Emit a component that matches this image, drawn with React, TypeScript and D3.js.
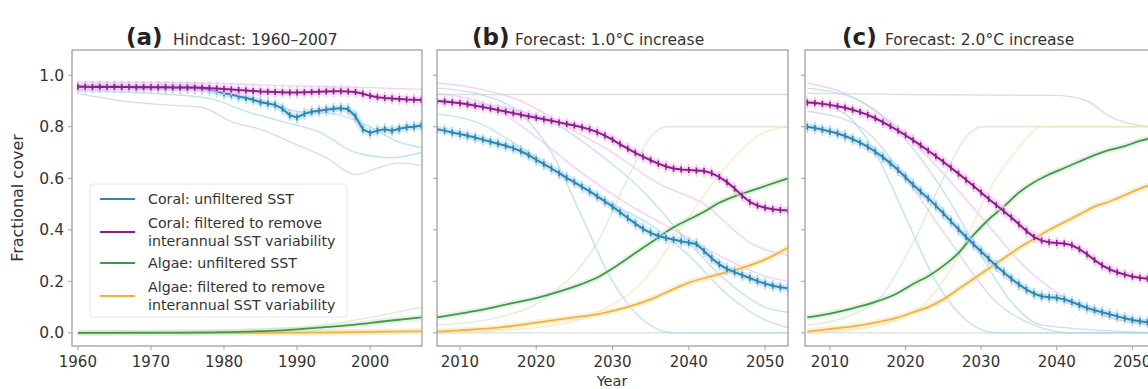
import React from "react";
import * as d3 from "d3";

// ---- data -------------------------------------------------------------
const hindYears = d3.range(1960, 2008);
const foreYears = d3.range(2007, 2054);

// Panel (a) hindcast, annual coral cover
const coralUnfilteredA = [
  0.955, 0.955, 0.954, 0.955, 0.954, 0.955, 0.954, 0.954, 0.953, 0.954,
  0.953, 0.953, 0.953, 0.952, 0.952, 0.951, 0.950, 0.948, 0.944, 0.938,
  0.930, 0.925, 0.918, 0.912, 0.905, 0.895, 0.890, 0.885, 0.870, 0.845,
  0.836, 0.850, 0.858, 0.862, 0.866, 0.870, 0.872, 0.868, 0.840, 0.790,
  0.776, 0.785, 0.790, 0.785, 0.792, 0.798, 0.800, 0.805,
];
const coralFilteredA = [
  0.955, 0.955, 0.954, 0.955, 0.954, 0.955, 0.954, 0.954, 0.953, 0.954,
  0.953, 0.953, 0.953, 0.952, 0.952, 0.952, 0.952, 0.951, 0.950, 0.949,
  0.947, 0.945, 0.943, 0.941, 0.939, 0.937, 0.936, 0.935, 0.934, 0.933,
  0.933, 0.934, 0.935, 0.936, 0.937, 0.938, 0.938, 0.937, 0.935, 0.928,
  0.920, 0.915, 0.912, 0.910, 0.908, 0.906, 0.905, 0.904,
];
const algaeUnfilteredA: [number, number][] = [
  [1960, 0.0], [1975, 0.001], [1982, 0.004], [1988, 0.01], [1993, 0.02],
  [1998, 0.032], [2002, 0.045], [2007, 0.06],
];
const algaeFilteredA: [number, number][] = [
  [1960, 0.0], [1985, 0.0], [1995, 0.002], [2007, 0.006],
];

// Panel (b) forecast, +1.0 °C
const coralUnfilteredB = [
  0.790, 0.785, 0.778, 0.772, 0.765, 0.758, 0.750, 0.742, 0.734, 0.726,
  0.717, 0.705, 0.690, 0.672, 0.655, 0.638, 0.620, 0.602, 0.585, 0.567,
  0.550, 0.530, 0.510, 0.490, 0.468, 0.446, 0.424, 0.404, 0.388, 0.376,
  0.368, 0.362, 0.356, 0.350, 0.345, 0.318, 0.290, 0.266, 0.248, 0.236,
  0.224, 0.213, 0.201, 0.191, 0.183, 0.177, 0.173,
];
const coralFilteredB = [
  0.900, 0.898, 0.895, 0.891, 0.887, 0.882, 0.877, 0.871, 0.865, 0.859,
  0.853, 0.847, 0.841, 0.835, 0.829, 0.823, 0.817, 0.811, 0.805, 0.798,
  0.790, 0.779, 0.766, 0.750, 0.732, 0.715, 0.699, 0.684, 0.670, 0.657,
  0.646, 0.638, 0.634, 0.632, 0.630, 0.628, 0.620, 0.605, 0.585, 0.560,
  0.532, 0.508, 0.494, 0.486, 0.480, 0.477, 0.475,
];
const algaeUnfilteredB: [number, number][] = [
  [2007, 0.06], [2010, 0.075], [2013, 0.09], [2016, 0.11], [2020, 0.135],
  [2023, 0.16], [2026, 0.19], [2028, 0.215], [2030, 0.25], [2032, 0.29],
  [2034, 0.33], [2036, 0.37], [2038, 0.41], [2040, 0.44], [2042, 0.47],
  [2044, 0.505], [2046, 0.53], [2048, 0.55], [2050, 0.57], [2052, 0.59], [2053, 0.6],
];
const algaeFilteredB: [number, number][] = [
  [2007, 0.005], [2010, 0.01], [2015, 0.02], [2020, 0.04], [2025, 0.06],
  [2028, 0.072], [2030, 0.085], [2033, 0.11], [2035, 0.13], [2038, 0.17],
  [2040, 0.195], [2043, 0.22], [2045, 0.236], [2048, 0.262], [2050, 0.285], [2053, 0.33],
];

// Panel (c) forecast, +2.0 °C
const coralUnfilteredC = [
  0.800, 0.795, 0.789, 0.782, 0.774, 0.764, 0.752, 0.738, 0.722, 0.703,
  0.682, 0.658, 0.632, 0.604, 0.575, 0.548, 0.522, 0.494, 0.464, 0.433,
  0.402, 0.372, 0.344, 0.316, 0.288, 0.260, 0.234, 0.210, 0.188, 0.168,
  0.152, 0.142, 0.138, 0.136, 0.130, 0.120, 0.108, 0.097, 0.088, 0.080,
  0.072, 0.064, 0.057, 0.050, 0.045, 0.041, 0.038,
];
const coralFilteredC = [
  0.894, 0.892, 0.889, 0.885, 0.880, 0.874, 0.866, 0.857, 0.846, 0.833,
  0.818, 0.802, 0.785, 0.767, 0.748, 0.728, 0.707, 0.686, 0.664, 0.641,
  0.618, 0.594, 0.570, 0.545, 0.520, 0.496, 0.472, 0.448, 0.422, 0.395,
  0.372, 0.358, 0.352, 0.349, 0.347, 0.340, 0.325, 0.305, 0.283, 0.262,
  0.247, 0.235, 0.226, 0.219, 0.214, 0.210, 0.207,
];
const algaeUnfilteredC: [number, number][] = [
  [2007, 0.06], [2010, 0.075], [2013, 0.095], [2016, 0.12], [2019, 0.155],
  [2021, 0.19], [2023, 0.22], [2025, 0.26], [2027, 0.31], [2029, 0.38],
  [2031, 0.44], [2033, 0.49], [2035, 0.545], [2037, 0.585], [2039, 0.615],
  [2041, 0.64], [2043, 0.665], [2045, 0.69], [2047, 0.71], [2049, 0.725],
  [2051, 0.745], [2053, 0.76],
];
const algaeFilteredC: [number, number][] = [
  [2007, 0.005], [2010, 0.015], [2013, 0.025], [2016, 0.04], [2019, 0.06],
  [2021, 0.08], [2023, 0.1], [2025, 0.13], [2027, 0.17], [2029, 0.21],
  [2031, 0.25], [2033, 0.29], [2035, 0.33], [2037, 0.365], [2039, 0.4],
  [2041, 0.43], [2043, 0.46], [2045, 0.49], [2047, 0.51], [2049, 0.535],
  [2051, 0.56], [2053, 0.58],
];

// Individual reef trajectories drawn faintly behind the means
type Site = { kind: "coral" | "coralF" | "algae" | "algaeF" | "grey"; pts: [number, number][] };
const sitesA: Site[] = [
  { kind: "coralF", pts: [[1960, 0.975], [1980, 0.968], [1990, 0.958], [2000, 0.952], [2007, 0.945]] },
  { kind: "grey", pts: [[1960, 0.93], [1966, 0.9], [1972, 0.885], [1977, 0.875], [1981, 0.82], [1985, 0.79], [1990, 0.73], [1994, 0.68], [1998, 0.615], [2001, 0.64], [2004, 0.66], [2007, 0.65]] },
  { kind: "coral", pts: [[1960, 0.96], [1975, 0.95], [1980, 0.93], [1985, 0.9], [1990, 0.86], [1995, 0.85], [2000, 0.8], [2004, 0.74], [2007, 0.72]] },
  { kind: "coral", pts: [[1960, 0.94], [1970, 0.93], [1978, 0.91], [1983, 0.86], [1988, 0.82], [1993, 0.78], [1998, 0.7], [2003, 0.68], [2007, 0.7]] },
  { kind: "algaeF", pts: [[1960, 0.004], [1990, 0.006], [2007, 0.012]] },
  { kind: "algae", pts: [[1960, 0.0], [1990, 0.02], [2000, 0.06], [2007, 0.1]] },
];
const sitesB: Site[] = [
  { kind: "grey", pts: [[2007, 0.925], [2053, 0.925]] },
  { kind: "grey", pts: [[2007, 0.0], [2053, 0.0]] },
  { kind: "coralF", pts: [[2007, 0.97], [2012, 0.95], [2018, 0.9], [2024, 0.8], [2030, 0.7], [2036, 0.58], [2042, 0.5], [2048, 0.35], [2053, 0.3]] },
  { kind: "coralF", pts: [[2007, 0.93], [2014, 0.88], [2020, 0.76], [2026, 0.62], [2032, 0.5], [2038, 0.4], [2044, 0.3], [2050, 0.22], [2053, 0.2]] },
  { kind: "coral", pts: [[2007, 0.95], [2012, 0.93], [2018, 0.85], [2022, 0.7], [2026, 0.45], [2030, 0.2], [2034, 0.05], [2038, 0.0], [2053, 0.0]] },
  { kind: "coral", pts: [[2007, 0.85], [2012, 0.82], [2018, 0.72], [2024, 0.6], [2030, 0.5], [2036, 0.4], [2040, 0.3], [2045, 0.15], [2050, 0.05], [2053, 0.02]] },
  { kind: "coral", pts: [[2007, 0.9], [2015, 0.88], [2022, 0.82], [2028, 0.7], [2034, 0.55], [2040, 0.35], [2045, 0.2], [2050, 0.1], [2053, 0.08]] },
  { kind: "algae", pts: [[2007, 0.03], [2015, 0.06], [2022, 0.15], [2028, 0.35], [2032, 0.6], [2035, 0.76], [2037, 0.8], [2053, 0.8]] },
  { kind: "algaeF", pts: [[2007, 0.0], [2020, 0.02], [2028, 0.08], [2034, 0.2], [2040, 0.45], [2045, 0.65], [2050, 0.78], [2053, 0.8]] },
];
const sitesC: Site[] = [
  { kind: "grey", pts: [[2007, 0.93], [2020, 0.925], [2040, 0.922], [2044, 0.9], [2047, 0.84], [2050, 0.81], [2053, 0.8]] },
  { kind: "grey", pts: [[2007, 0.0], [2053, 0.0]] },
  { kind: "grey", pts: [[2007, 0.86], [2014, 0.8], [2020, 0.6], [2026, 0.35], [2032, 0.12], [2037, 0.03], [2042, 0.0], [2053, 0.0]] },
  { kind: "coralF", pts: [[2007, 0.97], [2012, 0.93], [2018, 0.82], [2024, 0.65], [2030, 0.45], [2036, 0.25], [2042, 0.12], [2048, 0.05], [2053, 0.03]] },
  { kind: "coral", pts: [[2007, 0.9], [2012, 0.85], [2016, 0.7], [2020, 0.45], [2024, 0.2], [2028, 0.05], [2032, 0.0], [2053, 0.0]] },
  { kind: "coral", pts: [[2007, 0.95], [2014, 0.9], [2020, 0.75], [2025, 0.55], [2030, 0.3], [2034, 0.12], [2038, 0.03], [2053, 0.0]] },
  { kind: "algae", pts: [[2007, 0.03], [2012, 0.06], [2017, 0.15], [2021, 0.35], [2025, 0.6], [2028, 0.76], [2030, 0.8], [2053, 0.8]] },
  { kind: "algaeF", pts: [[2007, 0.0], [2015, 0.02], [2022, 0.1], [2027, 0.3], [2031, 0.55], [2035, 0.72], [2038, 0.8], [2053, 0.8]] },
];

const xTicksA = [1960, 1970, 1980, 1990, 2000];
const xTicksF = [2010, 2020, 2030, 2040, 2050];
const yTicks = [0, 0.2, 0.4, 0.6, 0.8, 1.0];

const panelTags = ["(a)", "(b)", "(c)"];
const panelTitles = ["Hindcast: 1960\u20132007", "Forecast: 1.0\u00b0C increase", "Forecast: 2.0\u00b0C increase"];

const legendItems = [
  { key: "coral", lines: ["Coral: unfiltered SST"] },
  { key: "coralF", lines: ["Coral: filtered to remove", "interannual SST variability"] },
  { key: "algae", lines: ["Algae: unfiltered SST"] },
  { key: "algaeF", lines: ["Algae: filtered to remove", "interannual SST variability"] },
];

// ---- styling ----------------------------------------------------------
const COLORS: Record<string, string> = {
  coral: "#2f86b3",
  coralF: "#8c1f8a",
  algae: "#3c9a4e",
  algaeF: "#f0b43c",
  grey: "#b8b8b8",
};
const PALE: Record<string, string> = {
  coral: "#a6d6ee",
  coralF: "#f2bcee",
  algae: "#cfe6c8",
  algaeF: "#f6e2b4",
  grey: "#cfcfcf",
};
const FONT = "'DejaVu Sans', Verdana, sans-serif";
const TXT = "#333";
const FRAME = "#a0a0a0";

const W = 1148;
const H = 389;
const TOP = 50;
const BOTTOM = 346;

const y = d3.scaleLinear().domain([-0.051, 1.098]).range([BOTTOM, TOP]);

type PanelSpec = {
  x0: number;
  x1: number;
  domain: [number, number];
  years: number[];
  coral: number[];
  coralF: number[];
  algae: [number, number][];
  algaeF: [number, number][];
  sites: Site[];
  ticks: number[];
  showY: boolean;
  tagX: number;
  titleX: number;
};

const panels: PanelSpec[] = [
  { x0: 72, x1: 422, domain: [1959.2, 2007.1], years: hindYears, coral: coralUnfilteredA, coralF: coralFilteredA, algae: algaeUnfilteredA, algaeF: algaeFilteredA, sites: sitesA, ticks: xTicksA, showY: true, tagX: 126, titleX: 173 },
  { x0: 437, x1: 788, domain: [2007, 2053], years: foreYears, coral: coralUnfilteredB, coralF: coralFilteredB, algae: algaeUnfilteredB, algaeF: algaeFilteredB, sites: sitesB, ticks: xTicksF, showY: false, tagX: 472, titleX: 515 },
  { x0: 805, x1: 1155, domain: [2006.7, 2053], years: foreYears, coral: coralUnfilteredC, coralF: coralFilteredC, algae: algaeUnfilteredC, algaeF: algaeFilteredC, sites: sitesC, ticks: xTicksF, showY: false, tagX: 842, titleX: 885 },
];

function CoralSeries({ xs, years, vals, kind }: { xs: d3.ScaleLinear<number, number>; years: number[]; vals: number[]; kind: string }) {
  const pts: [number, number][] = years.map((yr, i) => [xs(yr), y(vals[i])]);
  const line = d3.line().curve(d3.curveLinear)(pts) || "";
  return (
    <g>
      <path d={line} fill="none" stroke={PALE[kind]} strokeWidth={7} strokeOpacity={0.55} />
      {pts.map((p, i) => (
        <line key={"h" + i} x1={p[0]} x2={p[0]} y1={p[1] - 6} y2={p[1] + 6} stroke={PALE[kind]} strokeWidth={2} strokeOpacity={0.8} />
      ))}
      <path d={line} fill="none" stroke={COLORS[kind]} strokeWidth={2} />
      {pts.map((p, i) => (
        <line key={"t" + i} x1={p[0]} x2={p[0]} y1={p[1] - 3} y2={p[1] + 3} stroke={COLORS[kind]} strokeWidth={1.6} />
      ))}
    </g>
  );
}

function Panel({ spec, idx }: { spec: PanelSpec; idx: number }) {
  const xs = d3.scaleLinear().domain(spec.domain).range([spec.x0, spec.x1]);
  const smooth = d3.line<[number, number]>().x((d) => xs(d[0])).y((d) => y(d[1])).curve(d3.curveMonotoneX);
  const clipId = "clip" + idx;
  return (
    <g>
      <defs>
        <clipPath id={clipId}>
          <rect x={spec.x0} y={TOP} width={spec.x1 - spec.x0} height={BOTTOM - TOP} />
        </clipPath>
      </defs>
      <g clipPath={`url(#${clipId})`}>
        {spec.sites.map((s, i) => (
          <path key={"s" + i} d={smooth(s.pts) || ""} fill="none" stroke={PALE[s.kind]} strokeWidth={1.4} strokeOpacity={0.7} />
        ))}
        <path d={smooth(spec.algaeF) || ""} fill="none" stroke={PALE.algaeF} strokeWidth={6} strokeOpacity={0.5} />
        <path d={smooth(spec.algae) || ""} fill="none" stroke={PALE.algae} strokeWidth={6} strokeOpacity={0.5} />
        <path d={smooth(spec.algaeF) || ""} fill="none" stroke={COLORS.algaeF} strokeWidth={1.8} />
        <path d={smooth(spec.algae) || ""} fill="none" stroke={COLORS.algae} strokeWidth={1.8} />
        <CoralSeries xs={xs} years={spec.years} vals={spec.coral} kind="coral" />
        <CoralSeries xs={xs} years={spec.years} vals={spec.coralF} kind="coralF" />
      </g>
      <rect x={spec.x0} y={TOP} width={spec.x1 - spec.x0} height={BOTTOM - TOP} fill="none" stroke={FRAME} strokeWidth={1.3} />
      {spec.ticks.map((t) => (
        <g key={"x" + t}>
          <line x1={xs(t)} x2={xs(t)} y1={BOTTOM} y2={BOTTOM + 4} stroke={FRAME} />
          <text x={xs(t)} y={367} textAnchor="middle" fontFamily={FONT} fontSize={15} fill={TXT}>{t}</text>
        </g>
      ))}
      {yTicks.map((t) => (
        <g key={"y" + t}>
          <line x1={spec.x0 - 4} x2={spec.x0} y1={y(t)} y2={y(t)} stroke={FRAME} />
          {spec.showY && (
            <text x={spec.x0 - 8} y={y(t) + 5.5} textAnchor="end" fontFamily={FONT} fontSize={15.5} fill={TXT}>{t.toFixed(1)}</text>
          )}
        </g>
      ))}
      <text x={spec.tagX} y={45} fontFamily={FONT} fontSize={23} fontWeight="bold" fill="#222">{panelTags[idx]}</text>
      <text x={spec.titleX} y={45} fontFamily={FONT} fontSize={15.5} fill={TXT}>{panelTitles[idx]}</text>
    </g>
  );
}

function Legend() {
  const rows = [199, 232, 263, 296];
  return (
    <g>
      <rect x={90} y={184} width={257} height={133} rx={3} fill="#fff" fillOpacity={0.85} stroke="#e6e6e6" />
      {legendItems.map((it, i) => {
        const cy = rows[i];
        const n = it.lines.length;
        return (
          <g key={it.key}>
            <line x1={100} x2={135} y1={cy} y2={cy} stroke={COLORS[it.key]} strokeWidth={2.2} />
            {it.lines.map((ln, j) => (
              <text key={j} x={148} y={cy + 5 + (j - (n - 1) / 2) * 18.5} fontFamily={FONT} fontSize={14.2} fill={TXT}>{ln}</text>
            ))}
          </g>
        );
      })}
    </g>
  );
}

export default function App() {
  return (
    <svg width={W} height={H} style={{ position: "absolute", left: 0, top: 0, background: "#fff" }}>
      <rect x={0} y={0} width={W} height={H} fill="#fff" />
      {panels.map((p, i) => (
        <Panel key={i} spec={p} idx={i} />
      ))}
      <Legend />
      <text transform={`translate(23,198) rotate(-90)`} textAnchor="middle" fontFamily={FONT} fontSize={16} fill={TXT}>Fractional cover</text>
      <text x={612} y={386} textAnchor="middle" fontFamily={FONT} fontSize={14.5} fill={TXT}>Year</text>
    </svg>
  );
}
